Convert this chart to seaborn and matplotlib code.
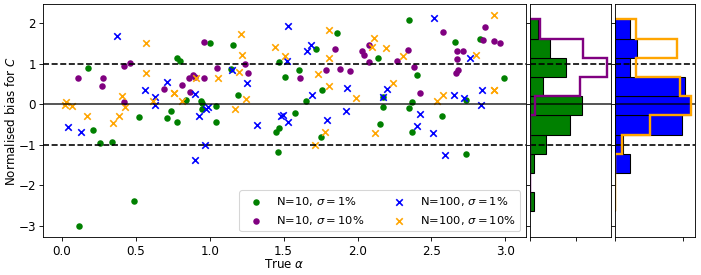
import numpy as np
import matplotlib
matplotlib.use("Agg")
import matplotlib.pyplot as plt
import seaborn as sns

# N=10, sigma=1%
n10_s1_alpha = [0.18, 0.78, 0.80, 0.84, 0.94, 0.95, 0.95, 0.525, 0.74, 0.71, 0.78, 0.21, 0.26, 0.34,
                0.49, 0.115, 1.00, 1.155, 1.145, 1.19, 1.04, 1.04, 1.47, 1.51, 1.605, 1.72, 1.86, 1.76,
                1.65, 1.58, 1.45, 1.47, 1.46, 1.755, 2.345, 2.66, 2.83, 2.14, 2.40, 2.99, 2.17, 2.735,
                2.17, 2.35, 2.37, 2.57, 2.37, 2.15, 2.735]
n10_s1_bias = [0.90, 1.13, 1.07, 0.10, 0.07, 0.04, -0.11, -0.31, -0.17, -0.35, -0.44, -0.64, -0.96, -0.93,
               -2.40, -3.02, 1.51, 1.45, 0.87, 0.22, -0.05, -0.44, 1.03, 0.68, 0.84, 1.36, 1.75, 0.36,
               0.07, -0.21, -0.68, -0.60, -1.19, -0.81, 2.08, 1.53, 1.61, 1.13, 0.72, 0.64, 0.18, 0.10,
               -0.07, -0.10, 0.05, -0.29, -0.68, -0.50, -1.24]

# N=10, sigma=10%
n10_s10_alpha = [0.11, 0.28, 0.27, 0.42, 0.46, 0.42, 0.69, 0.81, 0.86, 0.89, 0.90, 0.96, 0.965, 0.87,
                 1.05, 1.24, 1.26, 1.61, 1.85, 1.79, 1.88, 1.95, 2.03, 2.045, 2.58, 2.86, 2.85, 2.92,
                 2.96, 2.08, 2.08, 2.27, 2.34, 2.38, 2.67, 2.71, 2.675, 2.665, 2.68, 2.42]
n10_s10_bias = [0.64, 0.64, 0.46, 0.93, 1.01, 0.05, 0.38, 0.47, 0.65, 0.72, 0.67, 1.53, 0.64, 0.31,
                0.89, 1.00, 0.76, 0.64, 1.35, 0.84, 0.86, 0.82, 1.32, 1.22, 1.79, 1.90, 1.58, 1.56,
                1.50, 1.45, 1.05, 1.07, 1.34, 0.92, 1.32, 1.32, 1.12, 0.76, 0.84, 0.28]

# N=100, sigma=1%
n100_s1_alpha = [0.375, 0.56, 0.71, 0.63, 0.63, 0.90, 0.93, 0.975, 0.99, 0.04, 0.13, 0.90, 0.97, 1.15,
                 1.25, 1.53, 1.52, 1.66, 1.685, 1.69, 1.93, 1.32, 1.48, 1.495, 1.53, 1.92, 1.795, 2.52,
                 2.76, 2.20, 2.17, 2.65, 2.72, 2.84, 2.835, 2.42, 2.40, 2.51, 2.59]
n100_s1_bias = [1.68, 0.36, 0.54, 0.17, -0.03, 0.26, -0.29, -0.13, -0.08, -0.57, -0.68, -1.37, -1.02, 0.85,
                0.51, 1.94, 1.07, 1.32, 1.45, 0.22, 0.41, -0.51, -0.30, -0.27, -0.44, -0.16, -0.40, 2.12,
                1.15, 0.38, 0.18, 0.22, 0.15, 0.34, -0.01, -0.25, -0.53, -0.72, -1.26]

# N=100, sigma=10%
n100_s10_alpha = [0.57, 0.57, 0.41, 0.43, 0.62, 0.03, 0.025, 0.07, 0.76, 0.905, 0.81, 0.17, 0.39, 0.35,
                  1.21, 1.22, 1.055, 1.20, 1.245, 1.17, 1.44, 1.51, 1.81, 1.81, 1.73, 1.81, 1.99, 1.78,
                  1.71, 2.92, 2.11, 2.10, 2.195, 2.31, 2.80, 2.24, 2.58, 2.54, 2.92, 2.12, 0.76, 2.92]
n100_s10_bias = [1.50, 0.78, 0.19, -0.06, 0.07, 0.05, -0.03, -0.05, 0.28, 0.64, 0.07, -0.30, -0.30, -0.46,
                 1.73, 1.22, 0.65, 0.80, 0.13, -0.11, 1.42, 1.18, 1.82, 1.15, 0.74, 0.44, 0.14, -0.68,
                 -1.01, 2.20, 1.64, 1.42, 1.39, 1.18, 1.21, 0.53, 0.22, 0.07, 0.34, -0.71, 0.28, 0.34]

bin_edges = [-2.65, -2.17, -1.70, -1.23, -0.76, -0.28, 0.20, 0.66, 1.14, 1.62, 2.10]

plt.rcParams["font.size"] = 11

DPI = 78
fig = plt.figure(figsize=(701.2 / DPI, 275.2 / DPI), dpi=DPI)
ax = fig.add_axes([0.062, 0.138, 0.688, 0.845])
ax_h1 = fig.add_axes([0.756, 0.138, 0.115, 0.845], sharey=ax)
ax_h2 = fig.add_axes([0.877, 0.138, 0.114, 0.845], sharey=ax)

# main scatter
sns.scatterplot(x=n10_s1_alpha, y=n10_s1_bias, color="green", marker="o", s=36, linewidth=0,
                label=r"N=10, $\sigma=1\%$", ax=ax)
sns.scatterplot(x=n10_s10_alpha, y=n10_s10_bias, color="purple", marker="o", s=36, linewidth=0,
                label=r"N=10, $\sigma=10\%$", ax=ax)
sns.scatterplot(x=n100_s1_alpha, y=n100_s1_bias, color="blue", marker="x", s=36, linewidth=1.5,
                label=r"N=100, $\sigma=1\%$", ax=ax)
sns.scatterplot(x=n100_s10_alpha, y=n100_s10_bias, color="orange", marker="x", s=36, linewidth=1.5,
                label=r"N=100, $\sigma=10\%$", ax=ax)

for a in (ax, ax_h1, ax_h2):
    a.axhline(0, color="k", lw=1.5, alpha=0.8)
    a.axhline(1, color="k", lw=1.5, ls="--")
    a.axhline(-1, color="k", lw=1.5, ls="--")

ax.set_xlabel(r"True $\alpha$", labelpad=0)
ax.set_ylabel(r"Normalised bias for $C$", labelpad=0)
ax.legend(ncol=2, loc="lower right", fontsize=10.6)

# marginal histograms
sns.histplot(y=n10_s1_bias, bins=bin_edges, stat="density", color="green", alpha=1,
             edgecolor="black", linewidth=1, ax=ax_h1)
ax_h1.hist(n10_s10_bias, bins=bin_edges, density=True, histtype="step", orientation="horizontal",
           color="purple", lw=2.2)
sns.histplot(y=n100_s1_bias, bins=bin_edges, stat="density", color="blue", alpha=1,
             edgecolor="black", linewidth=1, ax=ax_h2)
ax_h2.hist(n100_s10_bias, bins=bin_edges, density=True, histtype="step", orientation="horizontal",
           color="orange", lw=2.2)

for a in (ax_h1, ax_h2):
    a.set_xlabel("")
    a.set_ylabel("")
    a.set_xticks([0, 0.5])
    a.tick_params(labelleft=False, labelbottom=False)

fig.savefig("out.png", dpi=DPI)
